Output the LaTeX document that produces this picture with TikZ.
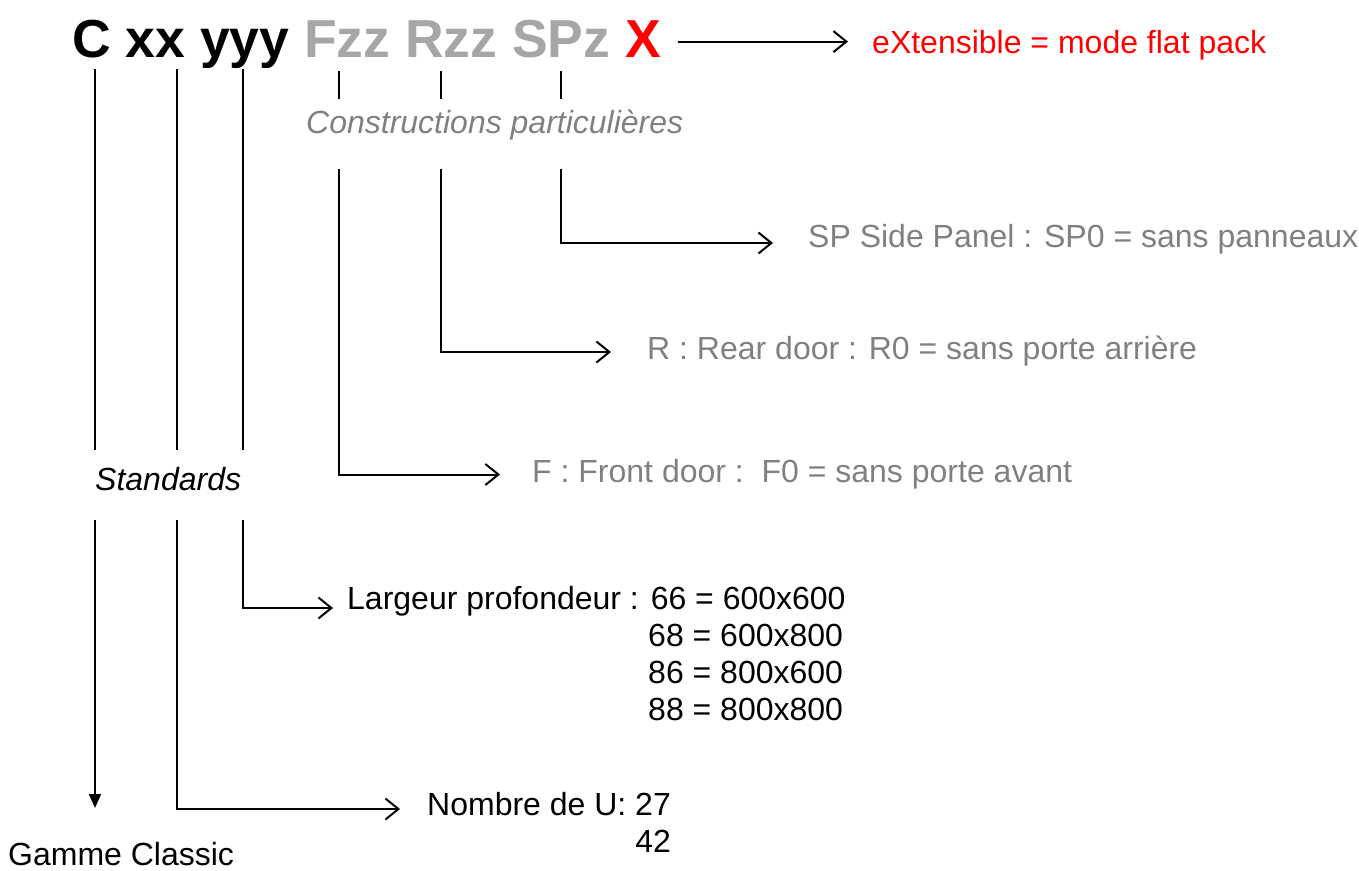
\documentclass[tikz,border=0pt]{standalone}
\usepackage{fontspec}
\setmainfont{Liberation Sans}
\usetikzlibrary{arrows.meta,calc}
\definecolor{codegray}{HTML}{A6A6A6}
\definecolor{descgray}{HTML}{808080}
\definecolor{xred}{HTML}{FF0000}
\begin{document}
\begin{tikzpicture}[x=1pt,y=-1pt,
  lbl/.style={inner sep=0pt, anchor=base west, font=\fontsize{32}{38}\selectfont},
  ilbl/.style={lbl, font=\fontsize{32}{38}\selectfont\itshape},
  codetxt/.style={inner sep=0pt, anchor=base west, font=\fontsize{53.5}{60}\selectfont\bfseries},
  ln/.style={line width=2pt},
  arr/.style={line width=2pt, -{Straight Barb[length=13pt,width=21pt,line width=2pt]}},
  downarr/.style={line width=2pt, -{Triangle[length=14pt,width=12pt]}}
]
\useasboundingbox (0,0) rectangle (1359,870);

% title code
\node[codetxt] (code) at (72,57) {C xx yyy \textcolor{codegray}{Fzz Rzz SPz}};
\node[codetxt, text=xred] (X) at ($(code.base east)+(14.9,0)$) {X};
\node[lbl, text=xred] (ext) at (872,53) {eXtensible = mode flat pack};

% labels
\node[ilbl, text=descgray] (cons) at (306,133) {Constructions particulières};
\node[ilbl] (std) at (95,490) {Standards};
\node[lbl, text=descgray] (sp) at (808,247) {SP Side Panel : SP0 = sans panneaux};
\node[lbl, text=descgray] (rr) at (647,359) {R : Rear door : R0 = sans porte arrière};
\node[lbl, text=descgray] (ff) at (532,482) {F : Front door :\ \ F0 = sans porte avant};
\node[lbl] (lp) at (347,609) {Largeur profondeur : 66 = 600x600};
\node[lbl] (l68) at (648,646) {68 = 600x800};
\node[lbl] (l86) at (648,683) {86 = 800x600};
\node[lbl] (l88) at (648,720) {88 = 800x800};
\node[lbl] (nu) at (427,815) {Nombre de U: 27};
\node[lbl, anchor=base east] (n42) at ($(nu.base east)+(0,37)$) {42};
\node[lbl] (gc) at (8,865) {Gamme Classic};

% coordinates
\coordinate (c1) at (95,69);
\coordinate (c2) at (177,69);
\coordinate (c3) at (243,69);
\coordinate (tF) at (339,71);
\coordinate (tR) at (441,71);
\coordinate (tS) at (561,71);

% X arrow
\draw[arr] ($(X.east)+(16,3)$) -- ($(X.east -| ext.west)+(-24,3)$);

% standards upper
\draw[ln] (c1) -- (c1 |- 0,450);
\draw[ln] (c2) -- (c2 |- 0,450);
\draw[ln] (c3) -- (c3 |- 0,450);
% constructions ticks
\draw[ln] (tF) -- (tF |- 0,99);
\draw[ln] (tR) -- (tR |- 0,99);
\draw[ln] (tS) -- (tS |- 0,99);

% constructions lower
\draw[arr] (tF |- 0,169) |- ($(ff.base west)+(-32,-7.5)$);
\draw[arr] (tR |- 0,169) |- ($(rr.base west)+(-36,-7)$);
\draw[arr] (tS |- 0,169) |- ($(sp.base west)+(-35,-4)$);

% standards lower
\draw[downarr] (c1 |- 0,520) -- (c1 |- 0,808);
\draw[arr] (c2 |- 0,520) |- ($(nu.base west)+(-27,-6)$);
\draw[arr] (c3 |- 0,520) |- ($(lp.base west)+(-14,-1)$);
\end{tikzpicture}
\end{document}
